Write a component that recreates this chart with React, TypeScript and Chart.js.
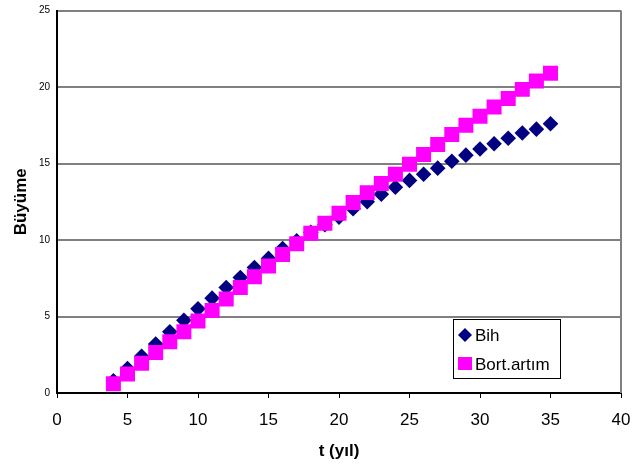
import React, { useEffect, useRef } from "react";
import { Chart, registerables } from "chart.js";

Chart.register(...registerables);

// Years (t) at which growth was measured
const years = [4, 5, 6, 7, 8, 9, 10, 11, 12, 13, 14, 15, 16, 17, 18, 19, 20, 21, 22, 23, 24, 25, 26, 27, 28, 29, 30, 31, 32, 33, 34, 35];

// Growth per model
const bih = [0.8, 1.6, 2.4, 3.2, 4.0, 4.75, 5.5, 6.2, 6.9, 7.55, 8.2, 8.8, 9.45, 9.95, 10.5, 11.0, 11.5, 12.05, 12.5, 13.0, 13.45, 13.9, 14.3, 14.7, 15.15, 15.55, 15.95, 16.3, 16.65, 17.0, 17.25, 17.6];
const bortArtim = [0.6, 1.25, 1.95, 2.65, 3.35, 4.0, 4.7, 5.4, 6.15, 6.9, 7.6, 8.3, 9.05, 9.75, 10.45, 11.1, 11.75, 12.45, 13.1, 13.7, 14.3, 14.95, 15.6, 16.25, 16.9, 17.5, 18.1, 18.7, 19.25, 19.85, 20.4, 20.9];

const seriesLabels = ["Bih", "Bort.artım"];
const xTitle = "t (yıl)";
const yTitle = "Büyüme";

const NAVY = "#000080";
const MAGENTA = "#FF00FF";
const FONT = "Arial, 'Liberation Sans', sans-serif";

// Right-hand frame line plus a boxed legend inside the plot area
const framePlugin = {
  id: "frame",
  beforeDatasetsDraw(chart: any) {
    const { ctx, chartArea } = chart;
    ctx.save();
    ctx.strokeStyle = "#808080";
    ctx.lineWidth = 2;
    ctx.beginPath();
    ctx.moveTo(chartArea.right, chartArea.top);
    ctx.lineTo(chartArea.right, chartArea.bottom);
    ctx.stroke();
    ctx.restore();
  },
  afterDraw(chart: any) {
    const { ctx, chartArea } = chart;
    const boxW = 107;
    const boxH = 59;
    const x0 = Math.round(chartArea.right - 168);
    const y0 = Math.round(chartArea.bottom - 74);
    ctx.save();
    ctx.fillStyle = "#ffffff";
    ctx.fillRect(x0, y0, boxW, boxH);
    ctx.strokeStyle = "#000000";
    ctx.lineWidth = 1;
    ctx.strokeRect(x0 + 0.5, y0 + 0.5, boxW, boxH);

    ctx.font = `17px ${FONT}`;
    ctx.textBaseline = "middle";
    ctx.textAlign = "left";

    // Bih entry: diamond
    const r1y = y0 + 16;
    const cx = x0 + 12;
    ctx.fillStyle = NAVY;
    ctx.beginPath();
    ctx.moveTo(cx, r1y - 7);
    ctx.lineTo(cx + 7, r1y);
    ctx.lineTo(cx, r1y + 7);
    ctx.lineTo(cx - 7, r1y);
    ctx.closePath();
    ctx.fill();
    ctx.fillStyle = "#000000";
    ctx.fillText(seriesLabels[0], x0 + 22, r1y + 1);

    // Bort.artım entry: square
    const r2y = y0 + 45;
    ctx.fillStyle = MAGENTA;
    ctx.fillRect(cx - 7, r2y - 7, 14, 13);
    ctx.fillStyle = "#000000";
    ctx.fillText(seriesLabels[1], x0 + 22, r2y + 1);
    ctx.restore();
  },
};

export default function App() {
  const canvasRef = useRef<HTMLCanvasElement | null>(null);

  useEffect(() => {
    const canvas = canvasRef.current;
    if (!canvas) return;
    const chart = new Chart(canvas, {
      type: "scatter",
      data: {
        datasets: [
          {
            label: seriesLabels[0],
            data: years.map((t, i) => ({ x: t, y: bih[i] })),
            pointStyle: "rectRot",
            pointRadius: 7.8,
            pointHoverRadius: 7.8,
            backgroundColor: NAVY,
            borderColor: NAVY,
            borderWidth: 0,
            order: 1,
          },
          {
            label: seriesLabels[1],
            data: years.map((t, i) => ({ x: t, y: bortArtim[i] })),
            pointStyle: "rect",
            pointRadius: 10.6,
            pointHoverRadius: 10.6,
            backgroundColor: MAGENTA,
            borderColor: MAGENTA,
            borderWidth: 0,
            order: 0,
          },
        ],
      },
      options: {
        responsive: false,
        animation: false,
        layout: { padding: { top: 9, right: 12, left: 0, bottom: 0 } },
        plugins: {
          legend: { display: false },
          tooltip: { enabled: false },
        },
        scales: {
          x: {
            type: "linear",
            min: 0,
            max: 40,
            afterFit: (scale: any) => {
              scale.height = 77;
              scale.paddingLeft = 0;
              scale.paddingRight = 0;
            },
            ticks: {
              stepSize: 5,
              color: "#000000",
              font: { family: FONT, size: 17 },
              padding: 12,
              maxRotation: 0,
            },
            grid: {
              drawOnChartArea: false,
              drawTicks: true,
              tickLength: 5,
              color: "#000000",
              lineWidth: 1,
            },
            border: { display: true, color: "#000000", width: 2 },
            title: {
              display: true,
              text: xTitle,
              color: "#000000",
              font: { family: FONT, size: 17, weight: "bold" },
              padding: { top: 0, bottom: 8 },
            },
          },
          y: {
            type: "linear",
            min: 0,
            max: 25,
            afterFit: (scale: any) => {
              scale.width = 57;
              scale.paddingTop = 0;
              scale.paddingBottom = 0;
            },
            ticks: {
              stepSize: 5,
              color: "#000000",
              font: { family: FONT, size: 10 },
              padding: 7,
            },
            grid: {
              drawTicks: false,
              color: (c: any) => (c.tick && c.tick.value === 0 ? "rgba(0,0,0,0)" : "#808080"),
              lineWidth: 2,
            },
            border: { display: true, color: "#000000", width: 2 },
            title: {
              display: true,
              text: yTitle,
              color: "#000000",
              font: { family: FONT, size: 17, weight: "bold" },
              padding: { top: 11, bottom: 0 },
            },
          },
        },
      },
      plugins: [framePlugin],
    });
    return () => chart.destroy();
  }, []);

  return (
    <div style={{ position: "absolute", left: 0, top: 0, width: 633, height: 470, background: "#ffffff" }}>
      <canvas ref={canvasRef} width={633} height={470} style={{ display: "block" }} />
    </div>
  );
}
